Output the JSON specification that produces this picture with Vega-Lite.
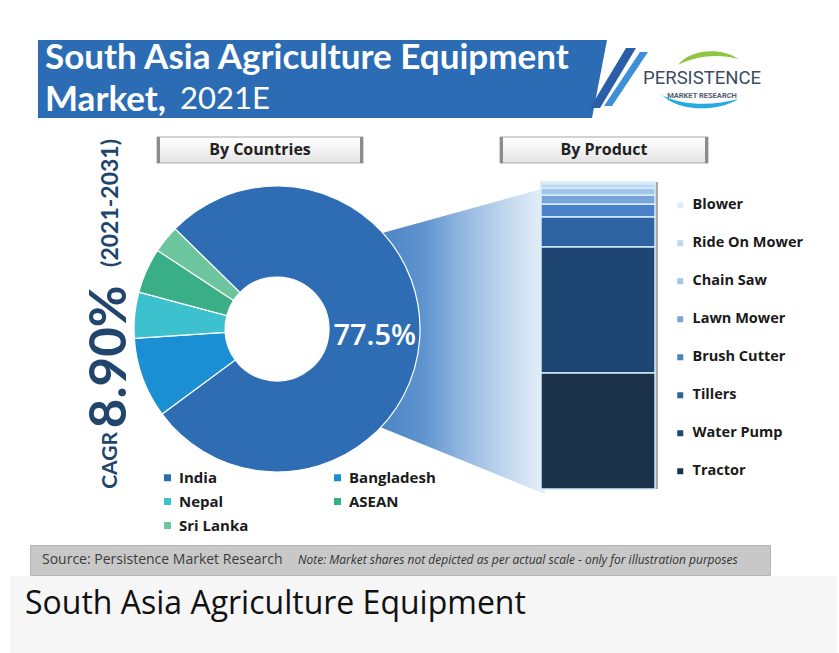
{
  "$schema": "https://vega.github.io/schema/vega-lite/v6.json",
  "background": "#ffffff",
  "padding": {"left": 10, "top": 40, "right": 2, "bottom": 0},
  "config": {"view": {"stroke": null}, "font": "Open Sans"},
  "spacing": 0,
  "vconcat": [
    {
      "spacing": 16,
      "vconcat": [
        {
          "spacing": 0,
          "bounds": "flush",
          "hconcat": [
            {"width": 28, "height": 78, "data": {"values": []}, "mark": "rect"},
            {
              "width": 554,
              "height": 78,
              "view": {"fill": "#2b6cb5", "stroke": null},
              "data": {"values": [
                {"line": "1", "seg": "a", "text": "South Asia Agriculture Equipment"},
                {"line": "2", "seg": "a", "text": "Market,"},
                {"line": "2", "seg": "b", "text": "2021E"}
              ]},
              "encoding": {
                "x": {"field": "seg", "type": "nominal", "scale": {"type": "point", "domain": ["a", "b", "c", "d"], "padding": 0.55, "align": 0.0471}, "axis": null},
                "y": {"field": "line", "type": "ordinal", "scale": {"type": "point", "domain": ["1", "2"], "padding": 0.407}, "axis": null},
                "text": {"field": "text"}
              },
              "layer": [
                {"transform": [{"filter": "datum.seg === 'a'"}], "mark": {"type": "text", "align": "left", "baseline": "middle", "font": "Lato", "fontWeight": "bold", "fontSize": 35, "color": "#ffffff"}},
                {"transform": [{"filter": "datum.seg === 'b'"}], "mark": {"type": "text", "align": "left", "baseline": "middle", "font": "Lato", "fontWeight": "normal", "fontSize": 31, "color": "#ffffff"}}
              ]
            },
            {
              "width": 220,
              "height": 78,
              "layer": [
                {"data": {"values": [{"part": "banner end"}]}, "mark": {"type": "point", "shape": "M-1.11,-0.39 L-0.95,-0.39 L-1.10,0.39 L-1.11,0.39 Z", "size": 40000, "filled": true, "fill": "#2b6cb5", "opacity": 1, "strokeWidth": 0}, "encoding": {}},
                {"data": {"values": [{"part": "slash dark"}]}, "mark": {"type": "point", "shape": "M-1.12,0.29 L-1.02,0.29 L-0.66,-0.31 L-0.76,-0.31 Z", "size": 40000, "filled": true, "fill": "#2a5ea8", "opacity": 1, "strokeWidth": 0}, "encoding": {}},
                {"data": {"values": [{"part": "slash light"}]}, "mark": {"type": "point", "shape": "M-0.98,0.27 L-0.90,0.27 L-0.54,-0.27 L-0.62,-0.27 Z", "size": 40000, "filled": true, "fill": "#3d8fd8", "opacity": 1, "strokeWidth": 0}, "encoding": {}},
                {"data": {"values": [{"part": "swoosh green"}]}, "mark": {"type": "point", "shape": "M-0.24,-0.14 C-0.12,-0.30 0.20,-0.32 0.36,-0.20 C0.18,-0.25 -0.05,-0.24 -0.24,-0.14 Z", "size": 40000, "filled": true, "fill": "#8dc63f", "opacity": 1, "strokeWidth": 0}, "encoding": {}},
                {"data": {"values": [{"part": "swoosh blue"}]}, "mark": {"type": "point", "shape": "M-0.40,0.16 C-0.25,0.32 0.15,0.34 0.36,0.20 C0.12,0.27 -0.20,0.27 -0.40,0.16 Z", "size": 40000, "filled": true, "fill": "#27a9e1", "opacity": 1, "strokeWidth": 0}, "encoding": {}},
                {
                  "data": {"values": [{"line": "p", "text": "PERSISTENCE"}, {"line": "m", "text": "MARKET RESEARCH"}]},
                  "encoding": {
                    "y": {"field": "line", "type": "nominal", "scale": {"type": "point", "domain": ["x", "p", "m", "y"], "padding": 0.667, "align": 0.833}, "axis": null},
                    "text": {"field": "text"}
                  },
                  "layer": [
                    {"transform": [{"filter": "datum.line === 'p'"}], "mark": {"type": "text", "align": "center", "baseline": "middle", "font": "Roboto", "fontSize": 18.5, "color": "#3b4d62"}},
                    {"transform": [{"filter": "datum.line === 'm'"}], "mark": {"type": "text", "align": "center", "baseline": "middle", "font": "Roboto", "fontWeight": "bold", "fontSize": 7.5, "color": "#4f5d70"}}
                  ]
                }
              ]
            }
          ]
        },
        {
          "spacing": 10,
          "vconcat": [
            {
              "spacing": 0,
              "bounds": "flush",
              "resolve": {"scale": {"color": "independent", "theta": "independent"}, "legend": {"color": "independent"}},
              "hconcat": [
                {"width": 54, "height": 1, "data": {"values": []}, "mark": "rect"},
                {
                  "width": 93,
                  "height": 354,
                  "data": {"values": [{"part": "(2021-2031)"}, {"part": "8.90%"}, {"part": "CAGR"}]},
                  "encoding": {
                    "y": {"field": "part", "type": "nominal", "scale": {"type": "point", "domain": ["(2021-2031)", "8.90%", "CAGR"], "padding": 0.2082, "align": 0.049}, "axis": null},
                    "text": {"field": "part"}
                  },
                  "layer": [
                    {"transform": [{"filter": "datum.part === 'CAGR'"}], "mark": {"type": "text", "angle": 270, "align": "right", "baseline": "middle", "font": "Lato", "fontWeight": "bold", "fontSize": 21, "color": "#21456c"}},
                    {"transform": [{"filter": "datum.part === '8.90%'"}], "mark": {"type": "text", "angle": 270, "align": "right", "baseline": "middle", "font": "Lato", "fontWeight": "bold", "fontSize": 51, "color": "#21456c"}},
                    {"transform": [{"filter": "datum.part === '(2021-2031)'"}], "mark": {"type": "text", "angle": 270, "align": "right", "baseline": "middle", "font": "Lato", "fontWeight": "bold", "fontSize": 23, "color": "#21456c"}}
                  ]
                },
                {
                  "width": 240,
                  "height": 386,
                  "data": {"values": [
                    {"country": "India", "share": 0.775, "rank": 1},
                    {"country": "Bangladesh", "share": 0.091, "rank": 2},
                    {"country": "Nepal", "share": 0.052, "rank": 3},
                    {"country": "ASEAN", "share": 0.051, "rank": 4},
                    {"country": "Sri Lanka", "share": 0.031, "rank": 5}
                  ]},
                  "layer": [
                    {"data": {"values": [{"part": "connector"}]}, "mark": {"type": "point", "shape": "M0.327,-0.313 L0.893,-0.47 L0.893,0.55 L0.327,0.32 Z", "size": 360000, "filled": true, "opacity": 1, "strokeWidth": 0, "fill": {"gradient": "linear", "x1": 0, "y1": 0, "x2": 1, "y2": 0, "stops": [{"offset": 0, "color": "#4a84c6"}, {"offset": 0.27, "color": "#5d92cd"}, {"offset": 0.5, "color": "#8fb5df"}, {"offset": 0.74, "color": "#bcd4ed"}, {"offset": 1, "color": "#e6eff8"}]}}, "encoding": {}},
                    {"data": {"values": [{"part": "header box"}]}, "mark": {"type": "point", "shape": "M-0.6,-0.96 L0.43,-0.96 L0.43,-0.83 L-0.6,-0.83 Z", "size": 160000, "filled": true, "opacity": 1, "fill": {"gradient": "linear", "x1": 0, "y1": 0, "x2": 0, "y2": 1, "stops": [{"offset": 0, "color": "#ffffff"}, {"offset": 1, "color": "#e4e4e4"}]}, "stroke": "#a8a8a8", "strokeWidth": 1}, "encoding": {}},
                    {"data": {"values": [{"part": "header edges"}]}, "mark": {"type": "point", "shape": "M-0.6,-0.96 L-0.585,-0.96 L-0.585,-0.83 L-0.6,-0.83 Z M0.415,-0.96 L0.43,-0.96 L0.43,-0.83 L0.415,-0.83 Z", "size": 160000, "filled": true, "opacity": 1, "fill": "#8c8c8c", "strokeWidth": 0}, "encoding": {}},
                    {"data": {"values": [{"header": "By Countries"}]}, "mark": {"type": "text", "font": "Open Sans", "fontWeight": "bold", "fontSize": 16, "color": "#222222", "align": "center", "baseline": "middle"}, "encoding": {"x": {"field": "header", "type": "nominal", "scale": {"type": "point", "padding": 0, "align": 0.429}, "axis": null}, "y": {"field": "header", "type": "nominal", "scale": {"type": "point", "padding": 0, "align": 0.0363}, "axis": null}, "text": {"field": "header"}}},
                    {
                      "mark": {"type": "arc", "innerRadius": 52, "outerRadius": 143, "stroke": "#ffffff", "strokeWidth": 1.2},
                      "encoding": {
                        "theta": {"field": "share", "type": "quantitative", "stack": true, "scale": {"range": [5.489, 11.772]}},
                        "order": {"field": "rank", "type": "quantitative"},
                        "color": {"field": "country", "type": "nominal", "scale": {"domain": ["India", "Bangladesh", "Nepal", "ASEAN", "Sri Lanka"], "range": ["#2e6db4", "#1a8fd3", "#3ec1cf", "#3aae86", "#6cc59e"]}, "legend": {"orient": "none", "legendX": 3, "legendY": 334, "direction": "horizontal", "columns": 2, "columnPadding": 81, "rowPadding": 8, "symbolType": "square", "symbolSize": 49, "symbolStrokeWidth": 0, "labelFont": "Open Sans", "labelFontSize": 15, "labelFontWeight": "bold", "labelColor": "#1a1a1a", "labelOffset": 4, "title": null, "padding": 0}}
                      }
                    },
                    {
                      "mark": {"type": "text", "radius": 98, "font": "Open Sans", "fontSize": 29, "fontWeight": 600, "color": "#ffffff", "align": "center", "baseline": "middle"},
                      "encoding": {
                        "theta": {"field": "share", "type": "quantitative", "stack": true},
                        "order": {"field": "rank", "type": "quantitative"},
                        "text": {"condition": {"test": "datum.country === 'India'", "field": "share", "type": "quantitative", "format": ".1%"}, "value": ""}
                      }
                    }
                  ]
                },
                {
                  "width": 311,
                  "height": 353,
                  "resolve": {"scale": {"x": "independent", "y": "independent"}},
                  "layer": [
                    {"data": {"values": [{"part": "header box"}]}, "mark": {"type": "point", "shape": "M-0.2625,-0.8775 L0.7775,-0.8775 L0.7775,-0.7475 L-0.2625,-0.7475 Z", "size": 160000, "filled": true, "opacity": 1, "fill": {"gradient": "linear", "x1": 0, "y1": 0, "x2": 0, "y2": 1, "stops": [{"offset": 0, "color": "#ffffff"}, {"offset": 1, "color": "#e4e4e4"}]}, "stroke": "#a8a8a8", "strokeWidth": 1}, "encoding": {}},
                    {"data": {"values": [{"part": "header edges"}]}, "mark": {"type": "point", "shape": "M-0.2625,-0.8775 L-0.2475,-0.8775 L-0.2475,-0.7475 L-0.2625,-0.7475 Z M0.7625,-0.8775 L0.7775,-0.8775 L0.7775,-0.7475 L0.7625,-0.7475 Z", "size": 160000, "filled": true, "opacity": 1, "fill": "#8c8c8c", "strokeWidth": 0}, "encoding": {}},
                    {"data": {"values": [{"part": "bar shadow"}]}, "mark": {"type": "point", "shape": "M0.5125,-0.6525 L0.5275,-0.6525 L0.5275,0.8825 L0.5125,0.8825 Z", "size": 160000, "filled": true, "opacity": 1, "fill": "#a9a9a9", "strokeWidth": 0}, "encoding": {}},
                    {"data": {"values": [{"header": "By Product"}]}, "mark": {"type": "text", "font": "Open Sans", "fontWeight": "bold", "fontSize": 16, "color": "#222222", "align": "center", "baseline": "middle"}, "encoding": {"x": {"field": "header", "type": "nominal", "scale": {"type": "point", "padding": 0, "align": 0.6656}, "axis": null}, "y": {"field": "header", "type": "nominal", "scale": {"type": "point", "padding": 0, "align": 0.0397}, "axis": null}, "text": {"field": "header"}}},
                    {
                      "data": {"values": [
                        {"product": "Blower", "share": 0.65, "rank": 8},
                        {"product": "Ride On Mower", "share": 1.35, "rank": 7},
                        {"product": "Chain Saw", "share": 2.3, "rank": 6},
                        {"product": "Lawn Mower", "share": 2.9, "rank": 5},
                        {"product": "Brush Cutter", "share": 4.2, "rank": 4},
                        {"product": "Tillers", "share": 9.8, "rank": 3},
                        {"product": "Water Pump", "share": 41.0, "rank": 2},
                        {"product": "Tractor", "share": 37.8, "rank": 1}
                      ]},
                      "mark": {"type": "bar", "stroke": "#d4ebfa", "strokeWidth": 1.5},
                      "encoding": {
                        "x": {"datum": "South Asia", "type": "nominal", "scale": {"type": "band", "paddingInner": 0, "paddingOuter": 0.864, "align": 0.731}, "axis": null},
                        "y": {"field": "share", "type": "quantitative", "stack": "zero", "scale": {"domain": [0, 115], "nice": false}, "axis": null},
                        "order": {"field": "rank", "type": "quantitative"},
                        "color": {"field": "product", "type": "nominal", "scale": {"domain": ["Blower", "Ride On Mower", "Chain Saw", "Lawn Mower", "Brush Cutter", "Tillers", "Water Pump", "Tractor"], "range": ["#e3ecf5", "#c0d7f0", "#a2c3ea", "#78a4da", "#4a80c8", "#2d63a0", "#1f4673", "#1b3049"]}, "legend": {"orient": "none", "legendX": 276, "legendY": 62, "rowPadding": 23, "symbolType": "square", "symbolSize": 36, "symbolStrokeWidth": 0, "labelFont": "Open Sans", "labelFontSize": 14.5, "labelFontWeight": "bold", "labelColor": "#1a1a1a", "labelOffset": 5, "title": null, "padding": 0}}
                      }
                    }
                  ]
                }
              ]
            },
            {
              "spacing": 0,
              "bounds": "flush",
              "hconcat": [
                {"width": 20, "height": 30, "data": {"values": []}, "mark": "rect"},
                {
                  "width": 740,
                  "height": 30,
                  "view": {"fill": "#c8c8c8", "stroke": "#b4b4b4"},
                  "data": {"values": [
                    {"seg": "a", "text": "Source: Persistence Market Research"},
                    {"seg": "b", "text": "Note: Market shares not depicted as per actual scale - only for illustration purposes"}
                  ]},
                  "encoding": {
                    "x": {"field": "seg", "type": "nominal", "scale": {"type": "point", "domain": ["a", "b"], "padding": 0.9453, "align": 0.02479}, "axis": null},
                    "text": {"field": "text"}
                  },
                  "layer": [
                    {"transform": [{"filter": "datum.seg === 'a'"}], "mark": {"type": "text", "align": "left", "baseline": "middle", "font": "Open Sans", "fontSize": 14, "color": "#3c3c3c"}},
                    {"transform": [{"filter": "datum.seg === 'b'"}], "mark": {"type": "text", "align": "left", "baseline": "middle", "font": "Open Sans", "fontStyle": "italic", "fontSize": 12, "color": "#333333"}}
                  ]
                }
              ]
            }
          ]
        }
      ]
    },
    {
      "width": 827,
      "height": 78,
      "view": {"fill": "#f6f6f6", "stroke": null},
      "data": {"values": [{"caption": "South Asia Agriculture Equipment"}]},
      "mark": {"type": "text", "align": "left", "baseline": "middle", "font": "Open Sans", "fontSize": 32, "color": "#111111"},
      "encoding": {
        "x": {"field": "caption", "type": "nominal", "scale": {"type": "point", "padding": 0, "align": 0.01814}, "axis": null},
        "y": {"field": "caption", "type": "nominal", "scale": {"type": "point", "padding": 0, "align": 0.359}, "axis": null},
        "text": {"field": "caption"}
      }
    }
  ]
}
